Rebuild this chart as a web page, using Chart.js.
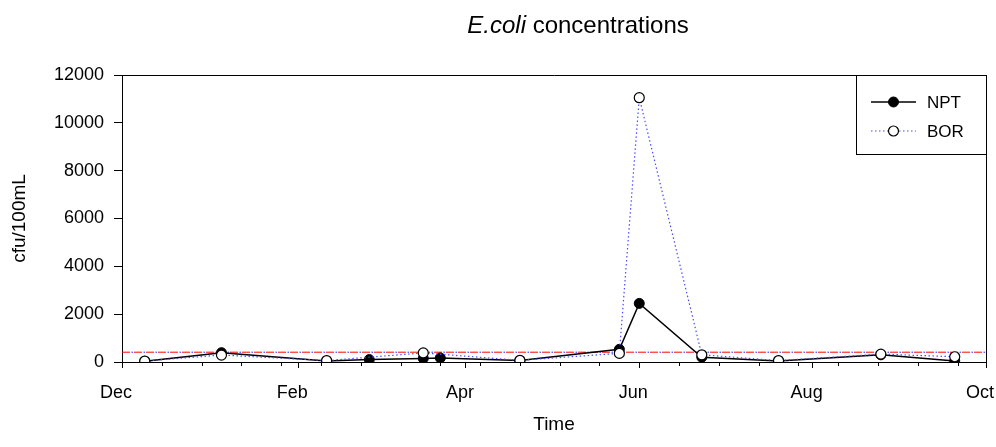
<!DOCTYPE html>
<html>
<head>
<meta charset="utf-8">
<script src="https://cdn.jsdelivr.net/npm/chart.js@4.4.1/dist/chart.umd.min.js"></script>
<style>
  html, body { margin: 0; padding: 0; background: #ffffff; }
  #wrap { width: 996px; height: 447px; position: relative; }
</style>
</head>
<body>
<div id="wrap"><canvas id="chart"></canvas></div>
<script>
// Sampling dates and E. coli counts (cfu/100mL) at the two stations
const sampleDates = ['2006-12-09', '2007-01-05', '2007-02-11', '2007-02-26', '2007-03-17', '2007-03-23',
                     '2007-04-20', '2007-05-25', '2007-06-01', '2007-06-23', '2007-07-20', '2007-08-25', '2007-09-20'];
const nptValues = [30, 390, 40, 100, 150, 170, 60, 530, 2450, 200, 40, 300, 40];
const borValues = [40, 290, 60, null, 380, null, 70, 360, 11050, 300, 60, 330, 220];

// Axis ticks
const tickDates = ['2006-12-01', '2007-02-01', '2007-04-01', '2007-06-01', '2007-08-01', '2007-10-01'];
const tickLabels = ['Dec', 'Feb', 'Apr', 'Jun', 'Aug', 'Oct'];
const yTickValues = [0, 2000, 4000, 6000, 8000, 10000, 12000];
const minorTickDays = 14;

// Recreational water guideline
const guidelineValue = 410;

const FONT = '"Liberation Sans", Arial, Helvetica, sans-serif';
const origin = Date.UTC(2006, 11, 1);
const dayOf = s => (Date.parse(s + 'T00:00:00Z') - origin) / 86400000;
const xMin = dayOf(tickDates[0]);
const xMax = dayOf(tickDates[tickDates.length - 1]);

const toPoints = vals => sampleDates.map((d, i) => ({ x: dayOf(d), y: vals[i] })).filter(p => p.y !== null);

const datasets = [
  {
    label: 'BOR',
    data: toPoints(borValues),
    showLine: true,
    borderColor: '#4a4aff',
    borderWidth: 1.2,
    borderDash: [1.5, 2.5],
    pointRadius: 5,
    pointHoverRadius: 5,
    pointBackgroundColor: '#ffffff',
    pointBorderColor: '#000000',
    pointBorderWidth: 1.2,
    order: 0
  },
  {
    label: 'NPT',
    data: toPoints(nptValues),
    showLine: true,
    borderColor: '#000000',
    borderWidth: 1.5,
    pointRadius: 5,
    pointHoverRadius: 5,
    pointBackgroundColor: '#000000',
    pointBorderColor: '#000000',
    pointBorderWidth: 1,
    order: 1
  },
  {
    label: 'guideline',
    data: [{ x: xMin, y: guidelineValue }, { x: xMax, y: guidelineValue }],
    showLine: true,
    borderColor: '#ff0000',
    borderWidth: 1,
    borderDash: [8, 4],
    pointRadius: 0,
    order: 3
  },
  {
    label: 'guideline-dots',
    data: [{ x: xMin, y: guidelineValue }, { x: xMax, y: guidelineValue }],
    showLine: true,
    borderColor: '#2020ff',
    borderWidth: 1,
    borderDash: [1.5, 10.5],
    borderDashOffset: 2.5,
    pointRadius: 0,
    order: 2
  }
];

// Title with italic genus name, frame, minor ticks and legend box
const decorations = {
  id: 'decorations',
  afterDraw(chart) {
    const { ctx, chartArea: a, scales } = chart;
    ctx.save();

    // Closing frame on top and right
    ctx.strokeStyle = '#000';
    ctx.lineWidth = 1;
    ctx.beginPath();
    ctx.moveTo(a.left, a.top + 0.5);
    ctx.lineTo(a.right + 0.5, a.top + 0.5);
    ctx.lineTo(a.right + 0.5, a.bottom);
    ctx.stroke();

    // Minor ticks along the time axis
    const xs = scales.x;
    ctx.beginPath();
    for (let d = xMin; d <= xMax; d += minorTickDays) {
      const px = Math.round(xs.getPixelForValue(d)) + 0.5;
      ctx.moveTo(px, a.bottom);
      ctx.lineTo(px, a.bottom + 4);
    }
    ctx.stroke();

    // Title
    const tFontI = 'italic 24px ' + FONT;
    const tFontN = '24px ' + FONT;
    const p1 = 'E.coli', p2 = ' concentrations';
    ctx.font = tFontI; const w1 = ctx.measureText(p1).width;
    ctx.font = tFontN; const w2 = ctx.measureText(p2).width;
    const cx = 578, cy = 26;
    let x0 = cx - (w1 + w2) / 2;
    ctx.fillStyle = '#000';
    ctx.textBaseline = 'middle';
    ctx.textAlign = 'left';
    ctx.font = tFontI; ctx.fillText(p1, x0, cy);
    ctx.font = tFontN; ctx.fillText(p2, x0 + w1, cy);

    // Legend box
    const bx = 856, by = a.top, bw = a.right - 856, bh = 79;
    ctx.fillStyle = '#fff';
    ctx.fillRect(bx, by, bw, bh);
    ctx.strokeStyle = '#000';
    ctx.lineWidth = 1;
    ctx.strokeRect(bx + 0.5, by + 0.5, bw, bh);
    const rows = [{ ds: datasets[1], y: by + 27 }, { ds: datasets[0], y: by + 56 }];
    ctx.font = '17px ' + FONT;
    rows.forEach(r => {
      ctx.save();
      ctx.strokeStyle = r.ds.borderColor;
      ctx.lineWidth = r.ds.borderWidth;
      ctx.setLineDash(r.ds.borderDash || []);
      ctx.beginPath();
      ctx.moveTo(871, r.y);
      ctx.lineTo(916, r.y);
      ctx.stroke();
      ctx.restore();
      ctx.beginPath();
      ctx.arc(893.5, r.y, r.ds.pointRadius, 0, Math.PI * 2);
      ctx.fillStyle = r.ds.pointBackgroundColor;
      ctx.fill();
      ctx.lineWidth = r.ds.pointBorderWidth;
      ctx.strokeStyle = r.ds.pointBorderColor;
      ctx.stroke();
      ctx.fillStyle = '#000';
      ctx.textBaseline = 'middle';
      ctx.fillText(r.ds.label, 927, r.y + 1);
    });
    ctx.restore();
  }
};

new Chart(document.getElementById('chart'), {
  type: 'scatter',
  data: { datasets },
  options: {
    responsive: true,
    maintainAspectRatio: false,
    animation: false,
    events: [],
    layout: { padding: { left: 0, right: 10, top: 75, bottom: 0 } },
    plugins: { legend: { display: false }, tooltip: { enabled: false }, title: { display: false } },
    scales: {
      x: {
        type: 'linear',
        min: xMin,
        max: xMax,
        afterBuildTicks: s => { s.ticks = tickDates.map(d => ({ value: dayOf(d) })); },
        afterFit: s => { s.height = 85; s.paddingLeft = 0; s.paddingRight = 0; },
        ticks: {
          autoSkip: false,
          maxRotation: 0,
          padding: 14,
          labelOffset: -6,
          color: '#000',
          font: { family: FONT, size: 18 },
          callback: v => tickLabels[tickDates.findIndex(d => dayOf(d) === v)]
        },
        grid: { drawOnChartArea: false, tickLength: 6, color: '#000', tickWidth: 1 },
        border: { color: '#000', width: 1 },
        title: {
          display: true, text: 'Time', color: '#000',
          font: { family: FONT, size: 19 },
          padding: { top: 0, bottom: 11 }
        }
      },
      y: {
        min: 0,
        max: 12000,
        afterBuildTicks: s => { s.ticks = yTickValues.map(v => ({ value: v })); },
        afterFit: s => { s.width = 122; s.paddingTop = 0; s.paddingBottom = 0; },
        ticks: {
          padding: 10,
          color: '#000',
          font: { family: FONT, size: 18 },
          callback: v => String(v)
        },
        grid: { drawOnChartArea: false, tickLength: 8, color: '#000', tickWidth: 1 },
        border: { color: '#000', width: 1 },
        title: {
          display: true, text: 'cfu/100mL', color: '#000',
          font: { family: FONT, size: 19 },
          padding: { top: 8, bottom: 0 }
        }
      }
    }
  },
  plugins: [decorations]
});
</script>
</body>
</html>
